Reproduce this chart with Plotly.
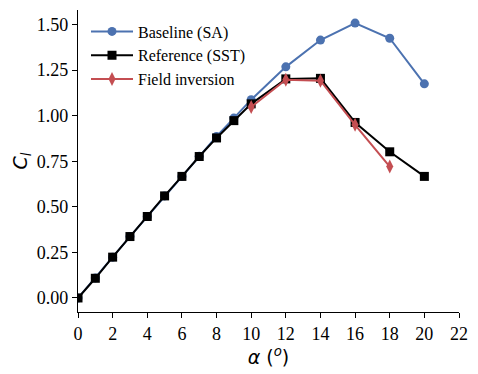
import plotly.graph_objects as go

alpha_sa = [0, 1, 2, 3, 4, 5, 6, 7, 8, 9, 10, 12, 14, 16, 18, 20]
cl_sa = [0.0, 0.11, 0.224, 0.337, 0.447, 0.56, 0.667, 0.777, 0.886, 0.987, 1.088, 1.268, 1.415, 1.508, 1.425, 1.175]

alpha_sst = [0, 1, 2, 3, 4, 5, 6, 7, 8, 9, 10, 12, 14, 16, 18, 20]
cl_sst = [0.0, 0.108, 0.224, 0.337, 0.447, 0.56, 0.667, 0.776, 0.878, 0.973, 1.065, 1.202, 1.205, 0.963, 0.802, 0.667]

alpha_fi = [10, 12, 14, 16, 18]
cl_fi = [1.048, 1.197, 1.192, 0.95, 0.721]

x_ticks = list(range(0, 23, 2))
y_ticks = [0.0, 0.25, 0.5, 0.75, 1.0, 1.25, 1.5]

fig = go.Figure()
fig.add_trace(go.Scatter(x=alpha_sa, y=cl_sa, name="Baseline (SA)", mode="lines+markers",
                         line=dict(color="#4C72B0", width=2),
                         marker=dict(symbol="circle", size=9, color="#4C72B0")))
fig.add_trace(go.Scatter(x=alpha_sst, y=cl_sst, name="Reference (SST)", mode="lines+markers",
                         line=dict(color="black", width=2),
                         marker=dict(symbol="square", size=9, color="black")))
fig.add_trace(go.Scatter(x=alpha_fi, y=cl_fi, name="Field inversion", mode="lines+markers",
                         line=dict(color="#C44E52", width=2),
                         marker=dict(symbol="diamond-tall", size=10, color="#C44E52")))

# the page puts the figure 8px in from the top-left, so the figure is a bit smaller
fig.update_layout(
    width=470, height=366,
    margin=dict(l=70, r=19, t=2, b=62),
    plot_bgcolor="white", paper_bgcolor="white",
    font=dict(family="Liberation Serif", size=18, color="black"),
    showlegend=True,
    legend=dict(x=0.021, y=0.985, xanchor="left", yanchor="top", bgcolor="rgba(0,0,0,0)",
                font=dict(family="Liberation Serif", size=16), tracegroupgap=0, itemwidth=42),
    xaxis=dict(range=[0, 22], tickvals=x_ticks, showline=True, linecolor="black", linewidth=1.3,
               ticks="outside", ticklen=5, tickcolor="black", showgrid=False, zeroline=False,
               automargin=False,
               title=dict(text="<i>α</i> (<sup><i>o</i></sup>)", font=dict(family="DejaVu Sans", size=19), standoff=4)),
    yaxis=dict(range=[-0.077, 1.58], tickvals=y_ticks, tickformat=".2f", showline=True,
               linecolor="black", linewidth=1.3, ticks="outside", ticklen=5, tickcolor="black",
               showgrid=False, zeroline=False, automargin=False,
               title=dict(text="<i>C<sub>l</sub></i>", font=dict(family="DejaVu Sans", size=19), standoff=4)),
)

fig.write_html("out.html")
